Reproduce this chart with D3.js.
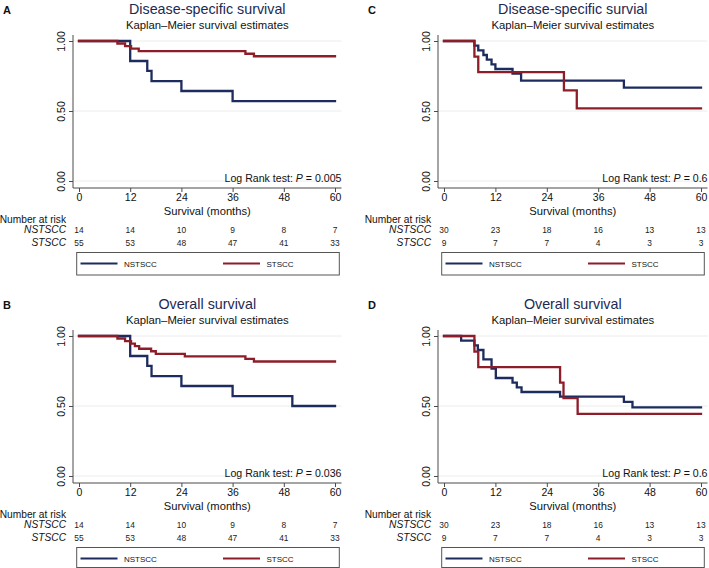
<!DOCTYPE html>
<html>
<head>
<meta charset="utf-8">
<script src="https://cdn.jsdelivr.net/npm/d3@7"></script>
<style>
  html, body { margin: 0; padding: 0; background: #fff; }
  svg { display: block; font-family: "Liberation Sans", Arial, sans-serif; }
</style>
</head>
<body>
<svg id="chart" width="709" height="568"></svg>
<script>
// ---------------- data ----------------
const monthTicks = [0, 12, 24, 36, 48, 60];
const survTicks = [0, 0.5, 1];
const survTickLabels = ["0.00", "0.50", "1.00"];
const groups = ["NSTSCC", "STSCC"];
const groupColors = ["#1d2b5e", "#8e1d2a"];

const panelLetters = ["A", "B", "C", "D"];
const panelTitles = ["Disease-specific survival", "Overall survival", "Disease-specific survial", "Overall survival"];
const subtitle = "Kaplan\u2013Meier survival estimates";
const pValues = ["0.005", "0.036", "0.6", "0.6"];

// numbers at risk
const riskNstsccAB = [14, 14, 10, 9, 8, 7];
const riskStsccAB  = [55, 53, 48, 47, 41, 33];
const riskNstsccCD = [30, 23, 18, 16, 13, 13];
const riskStsccCD  = [9, 7, 7, 4, 3, 3];

// Kaplan-Meier step curves (time in months, survival)
const aNstsccT = [0, 12, 16, 17, 24, 36, 60];
const aNstsccS = [1, 0.857, 0.786, 0.714, 0.643, 0.571, 0.571];
const aStsccT  = [0, 9, 10.8, 12.2, 14, 39, 41, 60];
const aStsccS  = [1, 0.982, 0.964, 0.945, 0.927, 0.909, 0.891, 0.891];

const bNstsccT = [0, 12, 16, 17, 24, 36, 50, 60];
const bNstsccS = [1, 0.857, 0.786, 0.714, 0.643, 0.571, 0.5, 0.5];
const bStsccT  = [0, 9, 10.8, 12.2, 13.1, 14.1, 16.9, 18, 24.8, 39, 41, 60];
const bStsccS  = [1, 0.982, 0.964, 0.945, 0.927, 0.909, 0.891, 0.873, 0.855, 0.836, 0.818, 0.818];

const cNstsccT = [0, 7.1, 8, 9.2, 10, 11.1, 12, 16, 18, 42, 60];
const cNstsccS = [1, 0.967, 0.933, 0.9, 0.867, 0.833, 0.8, 0.767, 0.717, 0.667, 0.667];
const cStsccT  = [0, 7.1, 8, 28, 31, 60];
const cStsccS  = [1, 0.889, 0.778, 0.648, 0.519, 0.519];

const dNstsccT = [0, 4, 7.1, 7.9, 9.2, 11.1, 12.1, 16, 17, 18.1, 27.1, 42, 44, 60];
const dNstsccS = [1, 0.967, 0.933, 0.9, 0.833, 0.767, 0.7, 0.667, 0.633, 0.6, 0.567, 0.529, 0.49, 0.49];
const dStsccT  = [0, 7.1, 8, 27.1, 27.9, 31.2, 60];
const dStsccS  = [1, 0.889, 0.778, 0.667, 0.556, 0.444, 0.444];

// ---------------- build panels ----------------
const zip = (t, s) => t.map((v, i) => ({ t: v, s: s[i] }));
const panels = [
  { ox: 79,  oy: 41,  w: 256, curves: [zip(aNstsccT, aNstsccS), zip(aStsccT, aStsccS)], risk: [riskNstsccAB, riskStsccAB] },
  { ox: 79,  oy: 336, w: 256, curves: [zip(bNstsccT, bNstsccS), zip(bStsccT, bStsccS)], risk: [riskNstsccAB, riskStsccAB] },
  { ox: 444, oy: 41,  w: 257, curves: [zip(cNstsccT, cNstsccS), zip(cStsccT, cStsccS)], risk: [riskNstsccCD, riskStsccCD] },
  { ox: 444, oy: 336, w: 257, curves: [zip(dNstsccT, dNstsccS), zip(dStsccT, dStsccS)], risk: [riskNstsccCD, riskStsccCD] }
];

const svg = d3.select("#chart");
const axisColor = "#4a4a4a";

panels.forEach((p, i) => {
  const x = d3.scaleLinear().domain([0, 60]).range([p.ox, p.ox + p.w]);
  const y = d3.scaleLinear().domain([0, 1]).range([p.oy + 140, p.oy]);
  const g = svg.append("g");
  const left = p.ox - 6, right = p.ox + p.w + 6.5, bottom = p.oy + 147, top = p.oy - 6;

  // panel letter
  g.append("text").attr("x", p.ox - 76).attr("y", p.oy - 27)
    .attr("font-size", 11).attr("font-weight", "bold").attr("fill", "#111")
    .text(panelLetters[i]);

  // titles
  const cx = (left + right) / 2;
  g.append("text").attr("x", cx).attr("y", p.oy - 27.5).attr("text-anchor", "middle")
    .attr("font-size", 14.3).attr("fill", "#1c2a52").text(panelTitles[i]);
  g.append("text").attr("x", cx).attr("y", p.oy - 12.5).attr("text-anchor", "middle")
    .attr("font-size", 11.3).attr("fill", "#111").text(subtitle);

  // gridlines
  g.append("g").selectAll("line").data(survTicks).join("line")
    .attr("x1", left).attr("x2", right)
    .attr("y1", d => y(d)).attr("y2", d => y(d))
    .attr("stroke", "#ececec").attr("stroke-width", 1);

  // y axis
  const yAxis = g.append("g").attr("transform", `translate(${left},0)`)
    .call(d3.axisLeft(y).tickValues(survTicks).tickFormat((d, k) => survTickLabels[k])
      .tickSize(4).tickSizeOuter(0));
  yAxis.select(".domain").remove();
  yAxis.selectAll(".tick line").attr("stroke", axisColor);
  yAxis.selectAll(".tick text")
    .attr("transform", "rotate(-90)").attr("x", 0).attr("y", -8).attr("dy", 0)
    .attr("text-anchor", "middle").attr("font-size", 10.5).attr("fill", "#111")
    .attr("font-family", "Liberation Sans, Arial, sans-serif");
  g.append("line").attr("x1", left).attr("x2", left).attr("y1", top).attr("y2", bottom)
    .attr("stroke", axisColor).attr("stroke-width", 1);

  // x axis
  const xAxis = g.append("g").attr("transform", `translate(0,${bottom})`)
    .call(d3.axisBottom(x).tickValues(monthTicks).tickSize(4).tickPadding(2).tickSizeOuter(0));
  xAxis.select(".domain").remove();
  xAxis.selectAll(".tick line").attr("stroke", axisColor);
  xAxis.selectAll(".tick text").attr("font-size", 10.5).attr("fill", "#111")
    .attr("font-family", "Liberation Sans, Arial, sans-serif");
  g.append("line").attr("x1", left).attr("x2", right).attr("y1", bottom).attr("y2", bottom)
    .attr("stroke", axisColor).attr("stroke-width", 1);

  // x axis title
  g.append("text").attr("x", cx).attr("y", p.oy + 174).attr("text-anchor", "middle")
    .attr("font-size", 11.2).attr("fill", "#111").text("Survival (months)");

  // curves
  const line = d3.line().x(d => x(d.t)).y(d => y(d.s)).curve(d3.curveStepAfter);
  p.curves.forEach((c, k) => {
    g.append("path").datum(c).attr("d", line).attr("fill", "none")
      .attr("stroke", groupColors[k]).attr("stroke-width", 2.3)
      .attr("stroke-linejoin", "miter").attr("stroke-linecap", "square");
  });

  // log rank text
  const lr = g.append("text").attr("x", right).attr("y", p.oy + 140.5).attr("text-anchor", "end")
    .attr("font-size", 10.6).attr("fill", "#111");
  lr.append("tspan").text("Log Rank test: ");
  lr.append("tspan").attr("font-style", "italic").text("P");
  lr.append("tspan").text(" = " + pValues[i]);

  // number at risk
  const labX = p.ox - 13;
  g.append("text").attr("x", labX).attr("y", p.oy + 181.5).attr("text-anchor", "end")
    .attr("font-size", 10.2).attr("fill", "#111").text("Number at risk");
  groups.forEach((name, k) => {
    const by = p.oy + 192.3 + k * 13;
    g.append("text").attr("x", labX).attr("y", by).attr("text-anchor", "end")
      .attr("font-size", 10.2).attr("font-style", "italic").attr("fill", "#111").text(name);
    g.append("g").selectAll("text").data(p.risk[k]).join("text")
      .attr("x", (d, j) => x(monthTicks[j])).attr("y", by - 0.5)
      .attr("text-anchor", "middle").attr("font-size", 8.4).attr("fill", "#222")
      .text(d => d);
  });

  // legend
  const ly = p.oy + 211.5;
  const lh = Math.min(22.5, 567.5 - ly);
  g.append("rect").attr("x", p.ox - 2.3).attr("y", ly).attr("width", 262.6).attr("height", lh)
    .attr("fill", "#fff").attr("stroke", "#555").attr("stroke-width", 1);
  const legX = [p.ox + 1.5, p.ox + 144];
  groups.forEach((name, k) => {
    g.append("line").attr("x1", legX[k]).attr("x2", legX[k] + 37)
      .attr("y1", ly + 11).attr("y2", ly + 11)
      .attr("stroke", groupColors[k]).attr("stroke-width", 2.2);
    g.append("text").attr("x", legX[k] + 43.5).attr("y", ly + 14)
      .attr("font-size", 8).attr("fill", "#111").text(name);
  });
});
</script>
</body>
</html>
